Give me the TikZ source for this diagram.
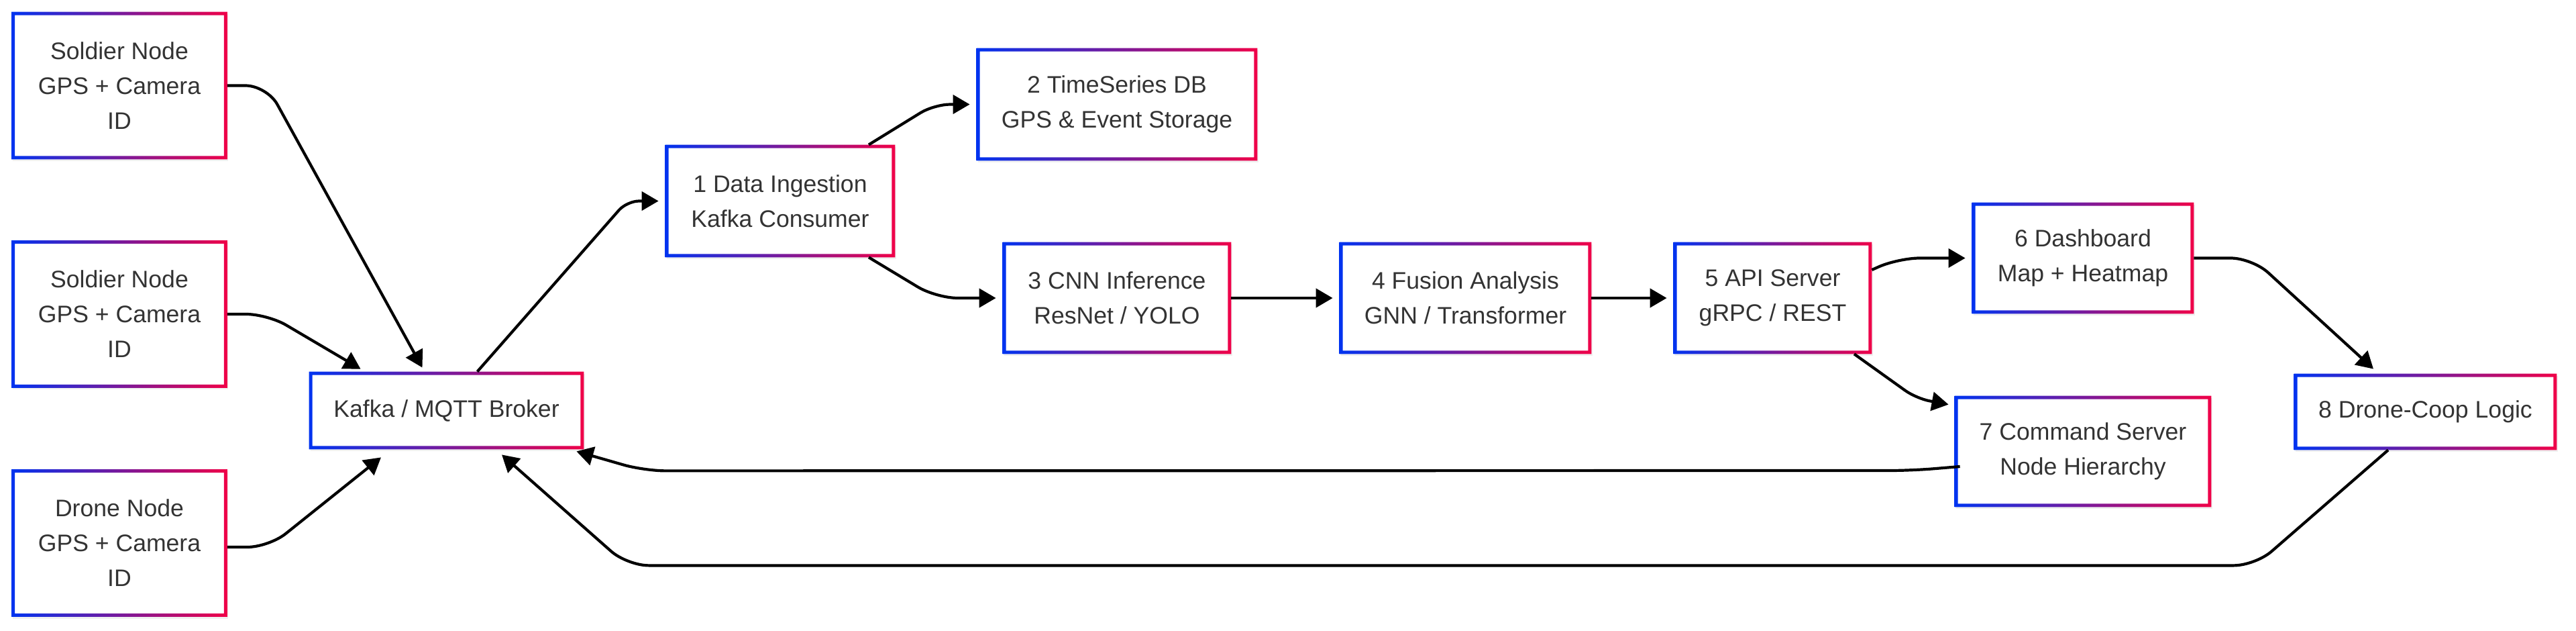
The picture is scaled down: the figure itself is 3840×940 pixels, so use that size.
\documentclass[tikz,border=0pt]{standalone}
\usepackage{fontspec}
\setmainfont{Liberation Sans}
\usetikzlibrary{arrows.meta,shadows}

\definecolor{edgeblue}{RGB}{0,51,240}
\definecolor{edgered}{RGB}{240,0,72}
\definecolor{textgray}{RGB}{51,51,51}

\tikzset{
    box/.style={fill=white, text=textgray, align=center, inner sep=0pt,
        font=\fontsize{17.8}{26}\selectfont,
        drop shadow={shadow xshift=0.8pt, shadow yshift=-1.5pt, opacity=0.12}},
    flow/.style={-{Triangle[length=12.5pt,width=14pt]}, line width=2.1pt, rounded corners=16pt},
}

\begin{document}
\begin{tikzpicture}[x=0.5pt,y=-0.5pt]
    \useasboundingbox (0,0) rectangle (3840,940);

    \node[box, minimum width=160.5pt, minimum height=109.5pt] (s1) at (178,127.5) {Soldier Node\\GPS + Camera\\ID};
    \node[box, minimum width=160.5pt, minimum height=109.5pt] (s2) at (178,468) {Soldier Node\\GPS + Camera\\ID};
    \node[box, minimum width=160.5pt, minimum height=109.5pt] (dr) at (178,809) {Drone Node\\GPS + Camera\\ID};
    \node[box, minimum width=204.5pt, minimum height=57.5pt] (kafka) at (665.5,611.5) {Kafka / MQTT Broker};

    \node[box, minimum width=171pt, minimum height=83.5pt] (ingest) at (1163,299.5) {1 Data Ingestion\\Kafka Consumer};
    \node[box, minimum width=209pt, minimum height=83.5pt] (tsdb) at (1665,155.5) {2 TimeSeries DB\\GPS \& Event Storage};
    \node[box, minimum width=170pt, minimum height=83pt] (cnn) at (1665,444) {3 CNN Inference\\ResNet / YOLO};
    \node[box, minimum width=187.5pt, minimum height=83pt] (fusion) at (2184.5,444) {4 Fusion Analysis\\GNN / Transformer};
    \node[box, minimum width=147.5pt, minimum height=83pt] (api) at (2642.5,444) {5 API Server\\gRPC / REST};
    \node[box, minimum width=165pt, minimum height=82.5pt] (dash) at (3105,384.5) {6 Dashboard\\Map + Heatmap};
    \node[box, minimum width=191pt, minimum height=82.5pt] (cmd) at (3105,672.5) {7 Command Server\\Node Hierarchy};
    \node[box, minimum width=195.5pt, minimum height=56.5pt] (coop) at (3615.5,613.5) {8 Drone-Coop Logic};

    \foreach \n in {s1,s2,dr,kafka,ingest,tsdb,cnn,fusion,api,dash,cmd,coop}
        \shade[left color=edgeblue, right color=edgered, even odd rule]
            (\n.south west) rectangle (\n.north east)
            ([shift={(2.5pt,2.5pt)}]\n.south west) rectangle ([shift={(-2.5pt,-2.5pt)}]\n.north east);

    \draw[flow] (s1.east) -- ([xshift=29.5pt]s1.east) -- ([shift={(-18pt,3pt)}]kafka.north);
    \draw[flow] (s2.east) -- ([xshift=30pt]s2.east) -- ([shift={(-64pt,2pt)}]kafka.north);
    \draw[flow] ([yshift=-3pt]dr.east) -- ([shift={(31pt,-3pt)}]dr.east) -- ([shift={(-48.75pt,-6pt)}]kafka.south);

    \draw[flow, rounded corners=9pt] ([xshift=23pt]kafka.north) -- ([xshift=-28.5pt]ingest.west) -- ([xshift=-5pt]ingest.west);
    \draw[flow, rounded corners=12pt] ([xshift=66pt]ingest.north) -- ([xshift=-31.5pt]tsdb.west) -- ([xshift=-5pt]tsdb.west);
    \draw[flow] ([xshift=66pt]ingest.south) -- ([xshift=-49.5pt]cnn.west) -- ([xshift=-5pt]cnn.west);
    \draw[flow] (cnn.east) -- ([xshift=-5pt]fusion.west);
    \draw[flow] (fusion.east) -- ([xshift=-5pt]api.west);
    \draw[flow] ([yshift=21pt]api.east) -- ([xshift=-55pt]dash.west) -- ([xshift=-5pt]dash.west);
    \draw[flow, rounded corners=10pt] ([xshift=60.75pt]api.south) -- ([shift={(-28.5pt,-2pt)}]cmd.north west) -- ([shift={(-4.5pt,-6.5pt)}]cmd.north west);
    \draw[flow] (dash.east) -- ([xshift=43.5pt]dash.east) -- ([shift={(-38.75pt,3.5pt)}]coop.north);

    \draw[flow] ([shift={(4pt,-11.25pt)}]cmd.west) -- ([shift={(-32pt,-14.25pt)}]cmd.west)
        -- ([shift={(45pt,-16pt)}]kafka.south east) -- ([shift={(-5.5pt,-1.5pt)}]kafka.south east);
    \draw[flow] ([xshift=-27.75pt]coop.south) -- ([shift={(-126.75pt,-86pt)}]coop.south)
        -- ([shift={(134.75pt,-86.5pt)}]kafka.south) -- ([shift={(41.25pt,-4pt)}]kafka.south);
\end{tikzpicture}
\end{document}
